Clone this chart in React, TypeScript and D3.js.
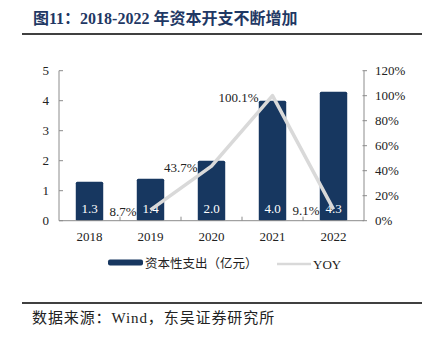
import React from "react";
import * as d3 from "d3";

const categories = ["2018", "2019", "2020", "2021", "2022"];
const capex = [1.3, 1.4, 2.0, 4.0, 4.3];
const yoy: (number | null)[] = [null, 8.7, 43.7, 100.1, 9.1];
const leftTicks = [0, 1, 2, 3, 4, 5];
const rightTicks = [0, 20, 40, 60, 80, 100, 120];

const W = 422;
const H = 344;
const plot = { left: 59, right: 364, top: 70.7, bottom: 220.7 };
const serif = "'Liberation Serif', 'Times New Roman', 'Noto Sans CJK SC', serif";
const cjk = "'Liberation Serif', 'Noto Sans CJK SC', serif";
const barColor = "#173760";
const lineColor = "#d9d9d9";
const axisColor = "#8c8c8c";

export default function App() {
  const x = d3.scaleBand<string>().domain(categories).range([plot.left, plot.right]).paddingInner(0).paddingOuter(0);
  const yL = d3.scaleLinear().domain([0, 5]).range([plot.bottom, plot.top]);
  const yR = d3.scaleLinear().domain([0, 120]).range([plot.bottom, plot.top]);
  const bw = x.bandwidth() * 0.45;
  const cx = (c: string) => (x(c) as number) + x.bandwidth() / 2;

  const linePts = categories
    .map((c, i) => ({ c, v: yoy[i] }))
    .filter((d) => d.v !== null) as { c: string; v: number }[];
  const line = d3
    .line<{ c: string; v: number }>()
    .x((d) => cx(d.c))
    .y((d) => yR(d.v));

  return (
    <svg width={W} height={H} style={{ position: "absolute", left: 0, top: 0, background: "#fff" }}>
      <text x={33} y={24} fontFamily={cjk} fontWeight="bold" fontSize={16} fill="#1f3864">
        图11：2018-2022 年资本开支不断增加
      </text>
      <line x1={22} x2={422} y1={34} y2={34} stroke="#000" strokeWidth={1.6} />

      {/* bars */}
      {categories.map((c, i) => (
        <rect
          key={c}
          x={cx(c) - bw / 2}
          y={yL(capex[i])}
          width={bw}
          height={yL(0) - yL(capex[i])}
          fill={barColor}
          rx={1.5}
        />
      ))}
      {categories.map((c, i) => (
        <text key={c} x={cx(c)} y={212.5} textAnchor="middle" fontFamily={serif} fontSize={13} fill="#fff">
          {capex[i].toFixed(1)}
        </text>
      ))}

      {/* axes */}
      <line x1={plot.left} x2={plot.left} y1={plot.top} y2={plot.bottom} stroke={axisColor} strokeWidth={1} />
      <line x1={plot.right} x2={plot.right} y1={plot.top} y2={plot.bottom} stroke={axisColor} strokeWidth={1} />
      <line x1={plot.left} x2={plot.right} y1={plot.bottom} y2={plot.bottom} stroke={axisColor} strokeWidth={1} />
      {leftTicks.map((t) => (
        <g key={t}>
          <line x1={plot.left} x2={plot.left + 4} y1={yL(t)} y2={yL(t)} stroke={axisColor} />
          <text x={49} y={yL(t) + 4.5} textAnchor="end" fontFamily={serif} fontSize={13} fill="#222">
            {t}
          </text>
        </g>
      ))}
      {rightTicks.map((t) => (
        <g key={t}>
          <line x1={plot.right - 1.5} x2={plot.right + 3} y1={yR(t)} y2={yR(t)} stroke={axisColor} />
          <text x={375} y={yR(t) + 4.5} textAnchor="start" fontFamily={serif} fontSize={13} fill="#222">
            {t}%
          </text>
        </g>
      ))}
      {categories.slice(1).map((c) => (
        <line key={c} x1={x(c) as number} x2={x(c) as number} y1={plot.bottom} y2={plot.bottom - 4} stroke={axisColor} />
      ))}
      {categories.map((c) => (
        <text key={c} x={cx(c)} y={241} textAnchor="middle" fontFamily={serif} fontSize={13} fill="#222">
          {c}
        </text>
      ))}

      {/* YOY line */}
      <path d={line(linePts) || ""} fill="none" stroke={lineColor} strokeWidth={3.5} strokeLinejoin="round" />
      {linePts.map((d) => (
        <text
          key={d.c}
          x={cx(d.c) - 14}
          y={yR(d.v) + 6}
          textAnchor="end"
          fontFamily={serif}
          fontSize={13}
          fill="#222"
        >
          {d.v.toFixed(1)}%
        </text>
      ))}

      {/* legend */}
      <rect x={108} y={259.5} width={35} height={6} rx={2} fill={barColor} />
      <text x={145} y={267.5} fontFamily={cjk} fontSize={12.5} fill="#222">
        资本性支出（亿元）
      </text>
      <line x1={277} x2={311} y1={264} y2={264} stroke={lineColor} strokeWidth={2.5} />
      <text x={313} y={268.5} fontFamily={serif} fontSize={13} fill="#222">
        YOY
      </text>

      <line x1={22} x2={422} y1={303} y2={303} stroke="#000" strokeWidth={1.6} />
      <text x={32} y={323} fontFamily={cjk} fontSize={15} letterSpacing={0.9} fill="#222">
        数据来源：Wind，东吴证券研究所
      </text>
    </svg>
  );
}
